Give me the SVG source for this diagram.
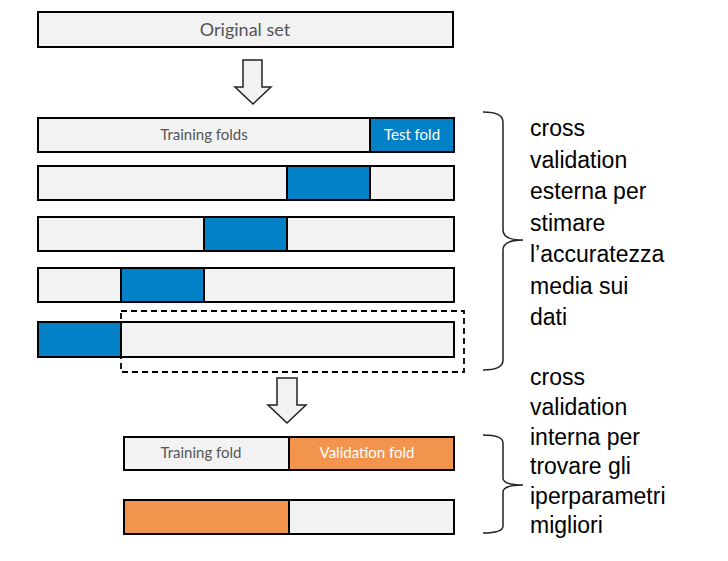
<svg xmlns="http://www.w3.org/2000/svg" width="728" height="561" viewBox="0 0 728 561">
<style>
.bar{fill:#f2f2f2;stroke:#000;stroke-width:2}
.blue{fill:#0281c6;stroke:#000;stroke-width:2}
.orange{fill:#f2944d;stroke:#000;stroke-width:2}
.lbl{font-family:Lato,"Liberation Sans",sans-serif;font-size:15px;text-anchor:middle}
.big{font-size:18px}
.dark{fill:#555}
.white{fill:#fff}
.arrow{fill:#f2f2f2;stroke:#222;stroke-width:1.5;stroke-linejoin:miter}
.brace{fill:none;stroke:#222;stroke-width:1.5}
.side{font-family:"Liberation Sans",Arial,sans-serif;font-size:23px;fill:#000}
</style>
<rect width="728" height="561" fill="#fff"/>
<g id="original-set">
<rect class="bar" x="38" y="12" width="415" height="35"/>
<text class="lbl big dark" x="245" y="36">Original set</text>
</g>
<g id="connectors">
<path class="arrow" d="M243,60 L262,60 L262,87 L271,87 L253,104 L235,87 L243,87 Z"/>
<path class="arrow" d="M277,378 L297,378 L297,405 L306,405 L287,423 L268,405 L277,405 Z"/>
</g>
<g id="outer-row1">
<rect class="bar" x="38" y="118" width="332" height="34"/>
<rect class="blue" x="370" y="118" width="84" height="34"/>
<text class="lbl dark" x="204" y="140">Training folds</text>
<text class="lbl white" x="412" y="140">Test fold</text>
</g>
<g id="outer-row2">
<rect class="bar" x="38" y="166" width="416" height="34"/>
<rect class="blue" x="287" y="166" width="83" height="34"/>
</g>
<g id="outer-row3">
<rect class="bar" x="38" y="217" width="416" height="34"/>
<rect class="blue" x="204" y="217" width="83" height="34"/>
</g>
<g id="outer-row4">
<rect class="bar" x="38" y="268" width="416" height="34"/>
<rect class="blue" x="121" y="268" width="83" height="34"/>
</g>
<g id="outer-row5">
<rect class="bar" x="38" y="322" width="416" height="35"/>
<rect class="blue" x="38" y="322" width="83" height="35"/>
</g>
<g id="selection">
<rect x="121" y="311" width="343" height="61" fill="none" stroke="#000" stroke-width="1.8" stroke-dasharray="6,4"/>
</g>
<g id="inner-row1">
<rect class="bar" x="124" y="437" width="165" height="33"/>
<rect class="orange" x="289" y="437" width="165" height="33"/>
<text class="lbl dark" x="201" y="458">Training fold</text>
<text class="lbl white" x="367" y="458">Validation fold</text>
</g>
<g id="inner-row2">
<rect class="orange" x="124" y="500" width="165" height="34"/>
<rect class="bar" x="289" y="500" width="165" height="34"/>
</g>
<g id="outer-brace">
<path class="brace" d="M483,112 Q503,112 503,122 L503,230 Q503,240 523,240 Q503,240 503,250 L503,360 Q503,370 483,370"/>
<text class="side" x="530"><tspan x="530" y="136">cross</tspan><tspan x="530" y="167.5">validation</tspan><tspan x="530" y="199">esterna per</tspan><tspan x="530" y="230.5">stimare</tspan><tspan x="530" y="262">l’accuratezza</tspan><tspan x="530" y="293.5">media sui</tspan><tspan x="530" y="325">dati</tspan></text>
</g>
<g id="inner-brace">
<path class="brace" d="M483,435 Q503,435 503,443 L503,478 Q503,485 523,485 Q503,485 503,492 L503,526 Q503,533 483,533"/>
<text class="side" x="530"><tspan x="530" y="385">cross</tspan><tspan x="530" y="415">validation</tspan><tspan x="530" y="444.5">interna per</tspan><tspan x="530" y="474">trovare gli</tspan><tspan x="530" y="503.5">iperparametri</tspan><tspan x="530" y="533">migliori</tspan></text>
</g>
</svg>
